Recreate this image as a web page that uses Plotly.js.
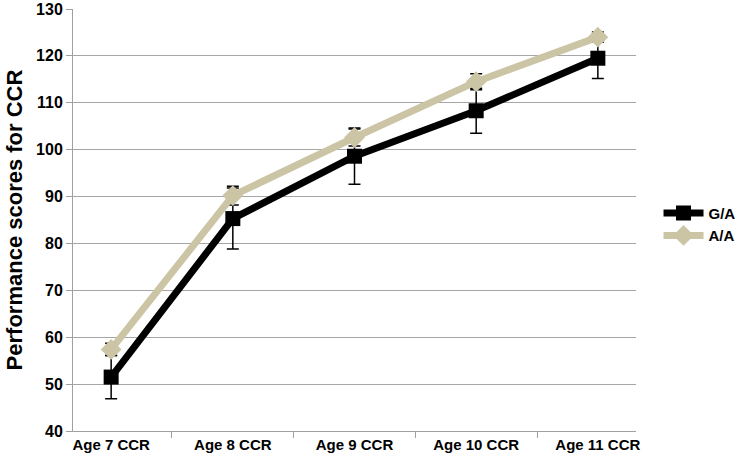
<!DOCTYPE html>
<html>
<head>
<meta charset="utf-8">
<script src="https://cdn.plot.ly/plotly-3.0.1.min.js"></script>
<style>html,body{margin:0;padding:0;background:#fff;}#chart{width:739px;height:462px;}</style>
</head>
<body>
<div id="chart"></div>
<script>
const categories = ["Age 7 CCR", "Age 8 CCR", "Age 9 CCR", "Age 10 CCR", "Age 11 CCR"];
const gaValues = [51.5, 85.3, 98.6, 108.3, 119.5];
const gaErrors = [4.6, 6.5, 6.0, 4.8, 4.3];
const aaValues = [57.4, 90.2, 102.6, 114.5, 124.0];
const aaErrors = [1.3, 2.0, 1.8, 1.7, 1.1];
const seriesNames = ["G/A", "A/A"];

const font = "Liberation Sans, Arial, sans-serif";

const traces = [
  {
    x: categories, y: gaValues, name: seriesNames[0], type: "scatter", mode: "lines+markers",
    line: {color: "#000000", width: 7},
    marker: {symbol: "square", size: 15, color: "#000000"},
    error_y: {type: "data", array: gaErrors, visible: true, color: "#000000", thickness: 1.5, width: 6}
  },
  {
    x: categories, y: aaValues, name: seriesNames[1], type: "scatter", mode: "lines+markers",
    line: {color: "#CBC4A5", width: 7},
    marker: {symbol: "diamond", size: 16, color: "#CBC4A5"},
    error_y: {type: "data", array: aaErrors, visible: true, color: "#000000", thickness: 1.5, width: 6}
  }
];

const layout = {
  width: 739, height: 462,
  margin: {l: 73, r: 103, t: 9, b: 31, autoexpand: false},
  paper_bgcolor: "#ffffff", plot_bgcolor: "#ffffff",
  showlegend: true,
  legend: {x: 1.04, y: 0.49, xanchor: "left", yanchor: "middle", itemwidth: 40,
    font: {family: font, size: 15, color: "#000", weight: "bold"}, tracegroupgap: 0},
  xaxis: {
    type: "category", showgrid: false, showline: true, linecolor: "#A0A0A0", linewidth: 1,
    ticks: "outside", tickson: "boundaries", ticklen: 6, tickcolor: "#A0A0A0",
    tickfont: {family: font, size: 15, color: "#000", weight: "bold"}, zeroline: false
  },
  yaxis: {
    range: [40, 130], dtick: 10, showgrid: true, gridcolor: "#A6A6A6", gridwidth: 1,
    showline: true, linecolor: "#A0A0A0", linewidth: 1, ticks: "outside", ticklen: 6, tickcolor: "#A0A0A0",
    ticklabeloverflow: "allow",
    tickfont: {family: font, size: 16, color: "#000", weight: "bold"}, zeroline: false,
    title: {text: "Performance scores for CCR", font: {family: font, size: 22, color: "#000", weight: "bold"}, standoff: 7}
  }
};

Plotly.newPlot("chart", traces, layout, {displayModeBar: false, staticPlot: true});
</script>
</body>
</html>
